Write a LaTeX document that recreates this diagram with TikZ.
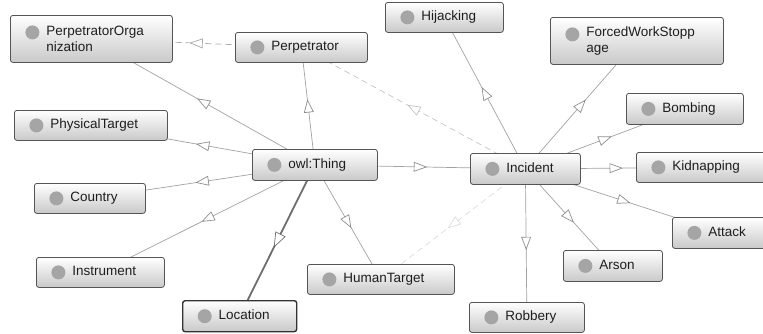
\documentclass[tikz,border=0pt]{standalone}
\usepackage{fontspec}
\setmainfont{Liberation Sans}
\usetikzlibrary{backgrounds,decorations.markings}
\definecolor{boxborder}{HTML}{555555}
\definecolor{boxbot}{HTML}{C9C9C9}
\definecolor{dotcol}{HTML}{A5A5A5}
\definecolor{textcol}{HTML}{1E1E1E}
\definecolor{edgecol}{HTML}{A2A2A2}
\definecolor{tricol}{HTML}{8E8E8E}
\definecolor{thickcol}{HTML}{6E6E6E}
\definecolor{dashcol}{HTML}{A8A8A8}
\definecolor{dashlight}{HTML}{C4C4C4}
\definecolor{dashfaint}{HTML}{DCDCDC}
\tikzset{
  cls/.style={draw=boxborder, line width=0.8pt, rounded corners=2.5pt,
    top color=white, bottom color=boxbot, anchor=north west,
    inner xsep=36pt, inner ysep=0pt, align=left,
    font=\fontsize{13.5}{16.5}\selectfont, text=textcol},
  oneline/.style={text height=10pt, text depth=3pt,
    path picture={\fill[dotcol] ([xshift=22pt]path picture bounding box.west) circle (7pt);}},
  twoline/.style={
    path picture={\fill[dotcol] ([xshift=22pt,yshift=-17pt]path picture bounding box.north west) circle (7pt);}},
  midtri/.style 2 args={postaction={decorate, decoration={markings,
      mark=at position 0.5 with {\filldraw[solid, fill=white, draw=#1, line width=0.7pt]
        (#2,0) -- (-#2,0.75*#2) -- (-#2,-0.75*#2) -- cycle;}}}},
  sub/.style={draw=edgecol, line width=0.7pt, midtri={tricol}{6pt}},
  subthick/.style={draw=thickcol, line width=1.8pt, midtri={thickcol}{7pt}},
  dsub/.style={draw=dashcol, line width=0.7pt, dash pattern=on 6pt off 4pt, midtri={dashcol}{6pt}},
  dsublight/.style={draw=dashlight, line width=0.7pt, dash pattern=on 6pt off 4pt, midtri={dashlight}{6pt}},
  dsubfaint/.style={draw=dashfaint, line width=0.7pt, dash pattern=on 6pt off 4pt, midtri={dashfaint}{6pt}},
}
\begin{document}
\begin{tikzpicture}[x=1pt, y=-1pt]
\useasboundingbox (0,0) rectangle (763,333);
\clip (0,0) rectangle (763,333);
% classes
\node[cls, twoline, minimum width=162pt, minimum height=47pt, text width=90pt] (porg) at (10,15) {PerpetratorOrga\\nization};
\node[cls, oneline, minimum width=132pt, minimum height=30pt, text width=60pt] (perp) at (235,32) {Perpetrator};
\node[cls, oneline, minimum width=153pt, minimum height=30pt, text width=81pt] (phys) at (14,110) {PhysicalTarget};
\node[cls, oneline, minimum width=125pt, minimum height=31pt, text width=53pt] (thing) at (252,149) {owl:Thing};
\node[cls, oneline, minimum width=111pt, minimum height=30pt, text width=39pt] (country) at (34,183) {Country};
\node[cls, oneline, minimum width=128pt, minimum height=30pt, text width=56pt] (instr) at (36,257) {Instrument};
\node[cls, oneline, minimum width=114pt, minimum height=31pt, text width=42pt, draw=black!80, line width=1.4pt] (loc) at (182,300) {Location};
\node[cls, oneline, minimum width=147pt, minimum height=30pt, text width=75pt] (human) at (307,264) {HumanTarget};
\node[cls, oneline, minimum width=118pt, minimum height=30pt, text width=46pt] (hij) at (385,2) {Hijacking};
\node[cls, twoline, minimum width=173pt, minimum height=47pt, text width=101pt] (fws) at (550,17) {ForcedWorkStopp\\age};
\node[cls, oneline, minimum width=117pt, minimum height=31pt, text width=45pt] (bomb) at (626,93) {Bombing};
\node[cls, oneline, minimum width=110pt, minimum height=31pt, text width=38pt] (inc) at (470,153) {Incident};
\node[cls, oneline, minimum width=140pt, minimum height=30pt, text width=68pt] (kid) at (636,152) {Kidnapping};
\node[cls, oneline, minimum width=100pt, minimum height=31pt, text width=28pt] (attack) at (672,217) {Attack};
\node[cls, oneline, minimum width=99pt, minimum height=31pt, text width=27pt] (arson) at (563,250) {Arson};
\node[cls, oneline, minimum width=115pt, minimum height=30pt, text width=43pt] (rob) at (469,302) {Robbery};
% connectors
\begin{pgfonlayer}{background}
\draw[sub] (thing.center) -- (porg.center);
\draw[sub] (thing.center) -- (perp.center);
\draw[sub] (thing.center) -- (phys.center);
\draw[sub] (thing.center) -- (country.center);
\draw[sub] (thing.center) -- (instr.center);
\draw[subthick] (thing.center) -- (loc.center);
\draw[sub] (thing.center) -- (human.center);
\draw[sub] (thing.center) -- (inc.center);
\draw[dsub] (perp.center) -- (porg.center);
\draw[dsublight] (inc.center) -- (perp.center);
\draw[dsubfaint] (inc.center) -- (human.center);
\draw[sub] (inc.center) -- (hij.center);
\draw[sub] (inc.center) -- (fws.center);
\draw[sub] (inc.center) -- (bomb.center);
\draw[sub] (inc.center) -- (kid.center);
\draw[sub] (inc.center) -- (attack.center);
\draw[sub] (inc.center) -- (arson.center);
\draw[sub] (inc.center) -- (rob.center);
\end{pgfonlayer}
\end{tikzpicture}
\end{document}
